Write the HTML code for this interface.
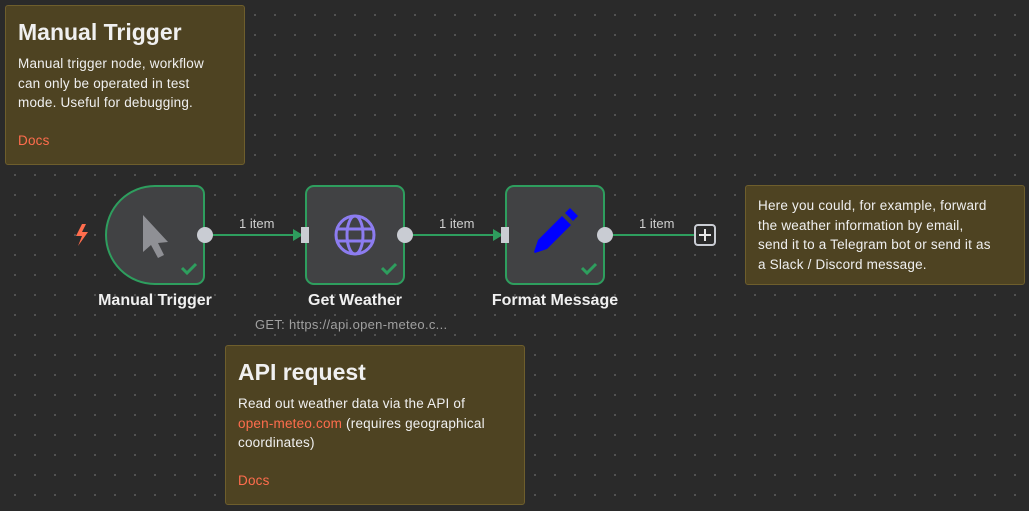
<!DOCTYPE html>
<html><head><style>
html,body{margin:0;padding:0}
body{width:1029px;height:511px;overflow:hidden;position:relative;background-color:#2a2a2a;
background-image:radial-gradient(circle,#5a5a5a 0.8px,transparent 1.2px);background-size:20px 20px;background-position:5px 5px;
font-family:"Liberation Sans",sans-serif;color:#e8e8e8}
.note{position:absolute;background:#4e4322;border:1px solid #6e5e2c;border-radius:3px;box-sizing:border-box;padding:12px 12px;color:#f0f0f0;font-size:13.5px;line-height:19.5px;white-space:nowrap;letter-spacing:0.2px}
.note h1{margin:0 0 8px;font-size:23px;font-weight:bold;line-height:28px;letter-spacing:0}
.docs{color:#ff6d4d}
.node{position:absolute;width:100px;height:100px;box-sizing:border-box;border:2px solid #2e9e5e;border-radius:9px;background:#414244}
.lbl{position:absolute;font-size:16px;font-weight:bold;color:#f0f0f0;text-align:center;width:200px}
.il{position:absolute;font-size:13px;color:#cfcfcf}
</style></head><body>
<div class="note" style="left:5px;top:5px;width:240px;height:160px"><h1>Manual Trigger</h1>Manual trigger node, workflow<br>can only be operated in test<br>mode. Useful for debugging.<div class="docs" style="margin-top:18px">Docs</div></div>
<div class="note" style="left:225px;top:345px;width:300px;height:160px"><h1>API request</h1>Read out weather data via the API of<br><span class="docs">open-meteo.com</span> (requires geographical<br>coordinates)<div class="docs" style="margin-top:18px">Docs</div></div>
<div class="note" style="left:745px;top:185px;width:280px;height:100px;padding:10px 12px">Here you could, for example, forward<br>the weather information by email,<br>send it to a Telegram bot or send it as<br>a Slack / Discord message.</div>

<svg width="1029" height="511" style="position:absolute;left:0;top:0">
<g stroke="#2e9e5e" stroke-width="2"><line x1="210" y1="235" x2="296" y2="235"/><line x1="410" y1="235" x2="496" y2="235"/><line x1="610" y1="235" x2="694" y2="235"/></g>
<polygon points="293,229 303,235 293,241" fill="#2e9e5e"/><polygon points="493,229 503,235 493,241" fill="#2e9e5e"/>
<polygon points="82,224 76,236 82,236 78,246 88,232 82,232 86,224" fill="#ff6d4d"/>
</svg>
<div class="node" style="left:105px;top:185px;border-radius:50px 9px 9px 50px"></div>
<div class="node" style="left:305px;top:185px"></div>
<div class="node" style="left:505px;top:185px"></div>
<svg width="1029" height="511" style="position:absolute;left:0;top:0">
<g fill="#c9ccd3"><circle cx="205" cy="235" r="8"/><circle cx="405" cy="235" r="8"/><circle cx="605" cy="235" r="8"/>
<rect x="301" y="227" width="8" height="16"/><rect x="501" y="227" width="8" height="16"/></g>
<rect x="695" y="225" width="20" height="20" rx="3" fill="none" stroke="#c9ccd3" stroke-width="2"/>
<path d="M705 229v12M699 235h12" stroke="#e8e8e8" stroke-width="2"/>
<path d="M143 215 L143 252 L151 245 L158 258 L164 255 L158 243 L168 242 Z" fill="#8f9095"/>
<g fill="none" stroke="#8c7cf0" stroke-width="3"><circle cx="355" cy="235" r="19"/><ellipse cx="355" cy="235" rx="8" ry="19"/><line x1="336" y1="229" x2="374" y2="229"/><line x1="336" y1="241" x2="374" y2="241"/></g>
<g fill="#0000ff"><polygon points="534,252 538,240 562,216 571,225 547,249 535,253"/><polygon points="565,213 570,208 578,216 573,221"/></g>
<g fill="none" stroke="#2e9e5e" stroke-width="3"><path d="M182 268l5 5 9-9"/><path d="M382 268l5 5 9-9"/><path d="M582 268l5 5 9-9"/></g>
</svg>
<div class="il" style="left:239px;top:216px">1 item</div>
<div class="il" style="left:439px;top:216px">1 item</div>
<div class="il" style="left:639px;top:216px">1 item</div>
<div class="lbl" style="left:55px;top:292px">Manual Trigger</div>
<div class="lbl" style="left:255px;top:292px">Get Weather</div>
<div class="lbl" style="left:455px;top:292px">Format Message</div>
<div style="position:absolute;left:255px;top:317px;font-size:13px;color:#a0a0a0;letter-spacing:0.3px">GET: https://api.open-meteo.c...</div>
</body></html>
